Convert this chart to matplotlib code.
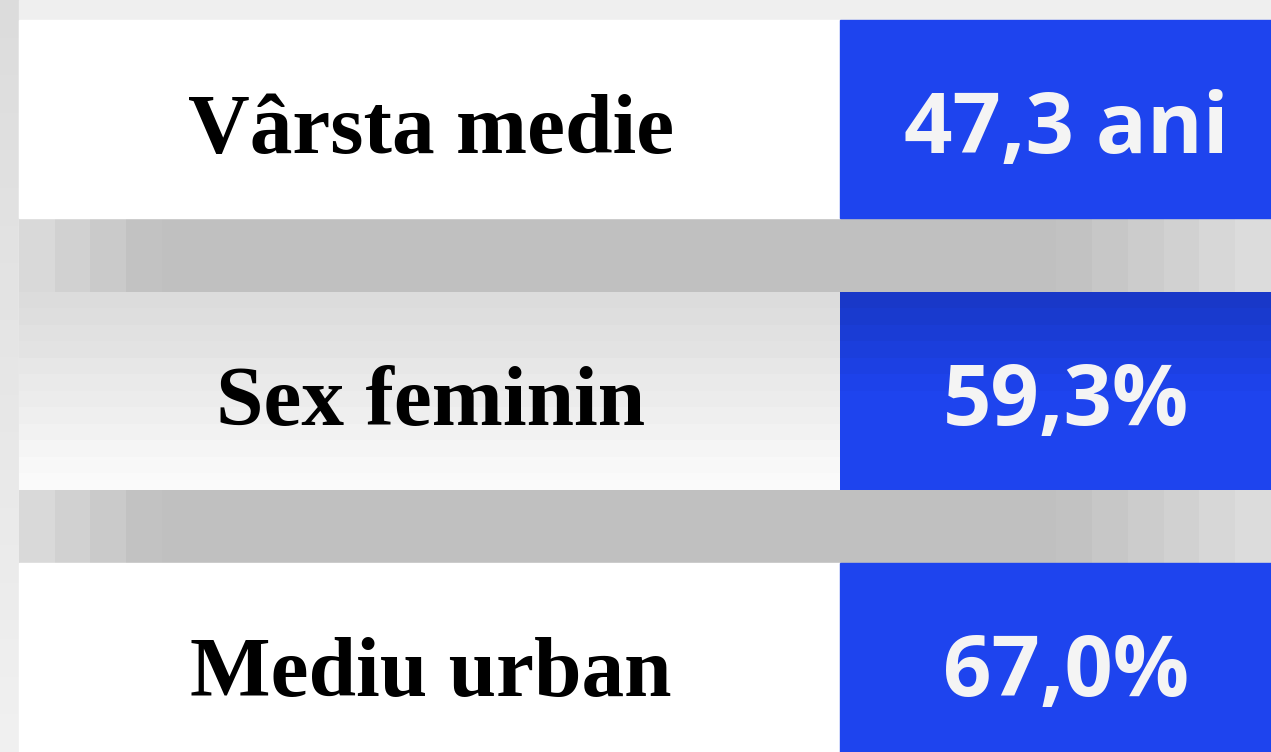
import numpy as np
import matplotlib.pyplot as plt
from matplotlib.patches import Rectangle

labels = ["Vârsta medie", "Sex feminin", "Mediu urban"]
values = ["47,3 ani", "59,3%", "67,0%"]

W, H = 1271, 752
row_top = [20, 292, 563]
row_h = 198
split = 840
blue = "#1e44ee"

fig = plt.figure(figsize=(W / 100, H / 100), dpi=100)
ax = fig.add_axes([0, 0, 1, 1])
ax.set_xlim(0, W)
ax.set_ylim(H, 0)
ax.axis("off")

# light background, a bit darker on the left edge
bg = np.tile(np.linspace(0.86, 0.94, 40), (40, 1)).T
ax.imshow(bg, cmap="gray", vmin=0, vmax=1, extent=[0, W, H, 0], aspect="auto", zorder=0)
ax.add_patch(Rectangle((19, 0), W, H, color="#efefef", zorder=0.5))

# gray blurred bands between rows
band = np.concatenate([np.linspace(0.85, 0.76, 4), np.full(25, 0.75), np.linspace(0.76, 0.86, 6)])
band = np.tile(band, (4, 1))
for i in range(2):
    y0 = row_top[i] + row_h
    y1 = row_top[i + 1]
    ax.imshow(band, cmap="gray", vmin=0, vmax=1, extent=[19, W, y1, y0], aspect="auto", zorder=1)

for i, (lab, val) in enumerate(zip(labels, values)):
    y = row_top[i]
    h = row_h if i < 2 else H - y
    if i == 1:
        grad = np.linspace(0.86, 0.98, 12)[:, None]
        ax.imshow(grad, cmap="gray", vmin=0, vmax=1, extent=[19, split, y + h, y], aspect="auto", zorder=2)
        bgrad = np.zeros((12, 1, 3))
        top_c = np.array([0x19, 0x38, 0xc8]) / 255
        bot_c = np.array([0x1e, 0x44, 0xee]) / 255
        for k, t in enumerate(np.clip(np.linspace(0, 2, 12), 0, 1)):
            bgrad[k, 0] = top_c * (1 - t) + bot_c * t
        ax.imshow(bgrad, extent=[split, W, y + h, y], aspect="auto", zorder=2)
    else:
        ax.add_patch(Rectangle((19, y), split - 19, h, color="white", zorder=2))
        ax.add_patch(Rectangle((split, y), W - split, h, color=blue, zorder=2))
    base = y + 133
    ax.text(431, base, lab, ha="center", va="baseline", fontsize=61.5,
            fontweight="bold", family="Liberation Serif", color="black", zorder=3)
    ax.text(1066, base, val, ha="center", va="baseline", fontsize=61,
            fontweight="bold", family="Open Sans", color="#f4f4f4", zorder=3)

fig.savefig("out.png", dpi=100)
